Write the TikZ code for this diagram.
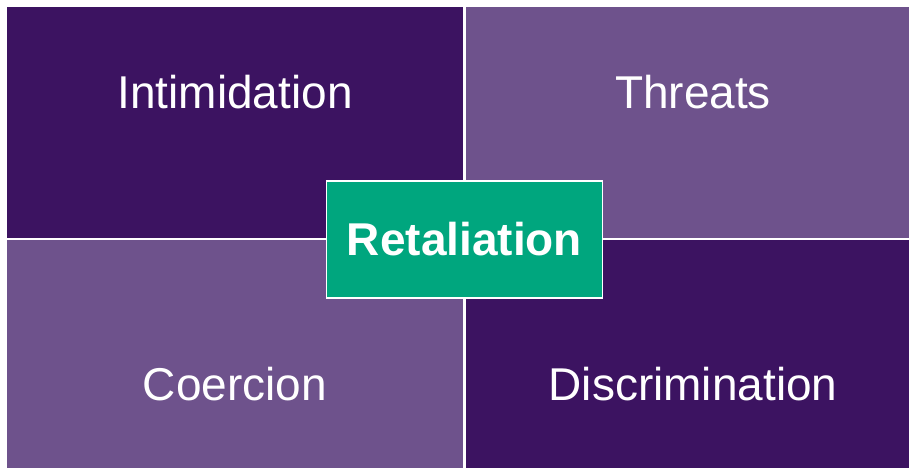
\documentclass[tikz,border=0pt]{standalone}
\usepackage{fontspec}
\setmainfont{Liberation Sans}
\definecolor{darkpurple}{HTML}{3C1361}
\definecolor{lightpurple}{HTML}{6E528C}
\definecolor{retgreen}{HTML}{00A67E}
\begin{document}
\begin{tikzpicture}[x=1pt,y=-1pt,
  qlabel/.style={text=white,font=\fontsize{46}{50}\selectfont,inner sep=0pt},
  centerbox/.style={fill=retgreen,draw=white,line width=1.8pt,text=white,
    font=\bfseries\fontsize{46}{50}\selectfont,minimum width=276pt,minimum height=117pt,inner sep=0pt}]
\useasboundingbox (0,0) rectangle (909,468);
\fill[white] (0,0) rectangle (909,468);
\fill[darkpurple] (7,7) rectangle (463,238);
\fill[lightpurple] (466,7) rectangle (909,238);
\fill[lightpurple] (7,240) rectangle (463,468);
\fill[darkpurple] (466,240) rectangle (909,468);
\node[qlabel] (intim) at (235,92.5) {Intimidation};
\node[qlabel] (threats) at (693,92.5) {Threats};
\node[qlabel] (coerc) at (235,384.5) {Coercion};
\node[qlabel] (discr) at (693,384.5) {Discrimination};
\node[centerbox] (ret) at (464.5,239.5) {Retaliation};
\end{tikzpicture}
\end{document}
